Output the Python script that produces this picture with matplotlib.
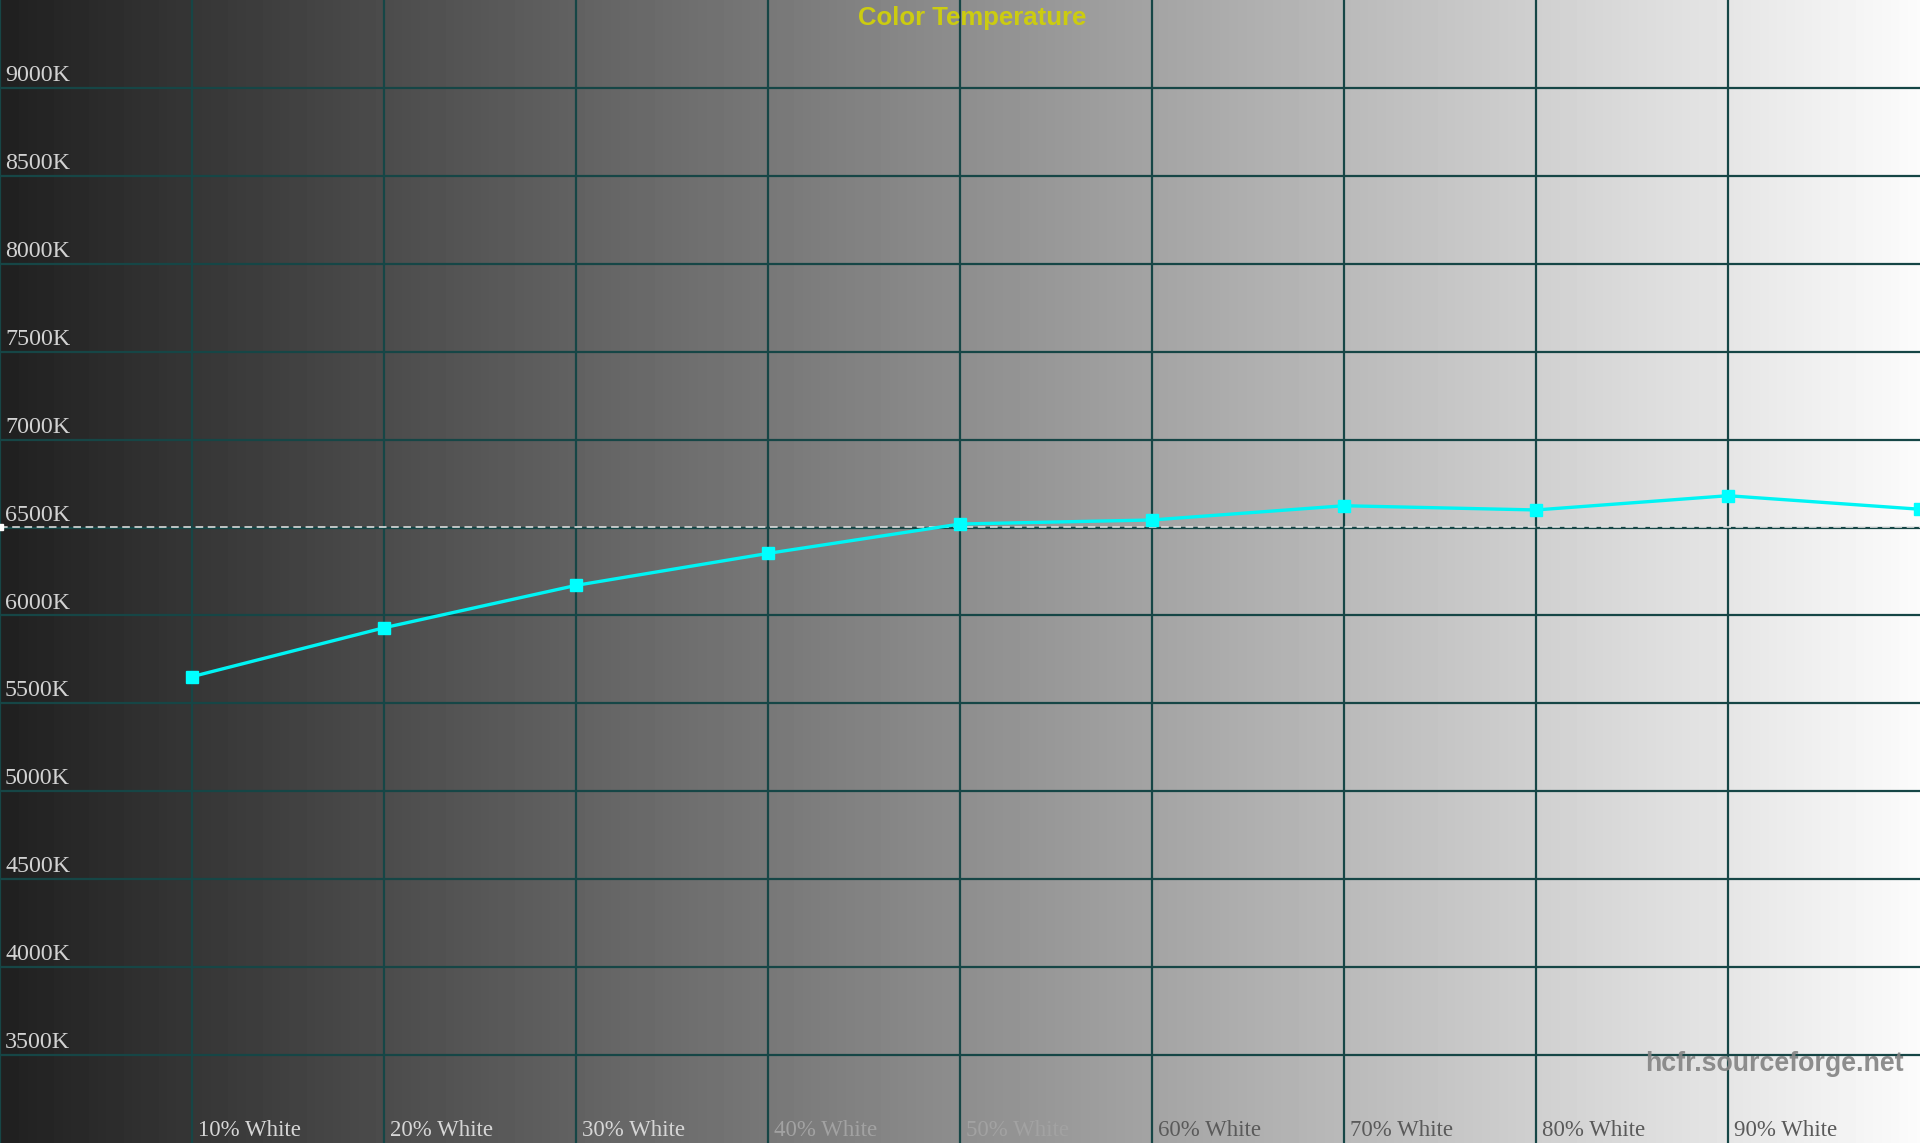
import numpy as np
import matplotlib
matplotlib.use("Agg")
import matplotlib.pyplot as plt

# ---- data ----
levels = [10, 20, 30, 40, 50, 60, 70, 80, 90, 100]
cct_k = [5652, 5930, 6171, 6353, 6520, 6543, 6624, 6600, 6681, 6604]
x_tick_labels = ["10% White", "20% White", "30% White", "40% White", "50% White",
                 "60% White", "70% White", "80% White", "90% White"]
y_ticks = [3500, 4000, 4500, 5000, 5500, 6000, 6500, 7000, 7500, 8000, 8500, 9000]
target_k = 6504
title = "Color Temperature"
watermark = "hcfr.sourceforge.net"

W, H, DPI = 1920, 1143, 100
fig = plt.figure(figsize=(W / DPI, H / DPI), dpi=DPI)
ax = fig.add_axes([0, 0, 1, 1])
ax.set_xlim(0, 100)
ax.set_ylim(3000, 9500)
ax.axis("off")

# background gradient
grad = np.linspace(0.125, 0.985, 512).reshape(1, -1)
ax.imshow(grad, extent=[0, 100, 3000, 9500], aspect="auto", cmap="gray",
          vmin=0, vmax=1, zorder=0, interpolation="bicubic")

grid_color = "#164646"
for xv in [0] + levels[:-1]:
    ax.axvline(xv, color=grid_color, lw=1.6, zorder=1)
for yv in y_ticks:
    ax.axhline(yv, color=grid_color, lw=1.6, zorder=1)

# y labels
for yv in y_ticks:
    ax.annotate(f"{yv}K", xy=(0, yv), xytext=(3.6, 5.0), textcoords="offset points",
                ha="left", va="baseline", fontsize=17.3, family="Liberation Serif",
                color="#d2d2d2", zorder=3)

# x labels with contrast-dependent colours
def label_color(i):
    if i < 3:
        return "#d6d6d6"
    if i < 5:
        return "#a2a2a2"
    return "#5a5a5a"

for i, (xv, lab) in enumerate(zip(levels, x_tick_labels)):
    ax.annotate(lab, xy=(xv, 3000), xytext=(4.0, 5.0), textcoords="offset points",
                ha="left", va="baseline", fontsize=16.5, family="Liberation Serif",
                color=label_color(i), zorder=3)

# target dashed line
ax.plot([0, 100], [target_k, target_k], color="#e8e8e8", lw=1.1,
        dashes=(5, 3), zorder=2, marker="s", markersize=4.5,
        markevery=[0], markerfacecolor="white", markeredgecolor="white")

# measured series
ax.plot(levels, cct_k, color="#00f4f4", lw=2.4, marker="s", markersize=9.2,
        markerfacecolor="#00ffff", markeredgecolor="#00ffff", zorder=4)

# title
ax.annotate(title, xy=(972 / W * 100, 9500), xytext=(0, -4.5),
            textcoords="offset points", ha="center", va="top",
            fontsize=18.5, fontweight="bold", family="Liberation Sans",
            color="#cccc10", zorder=5)

# watermark
ax.annotate(watermark, xy=(100, 3000), xytext=(-12.0, 51.5), textcoords="offset points",
            ha="right", va="baseline", fontsize=19.3, fontweight="bold",
            family="Liberation Sans", color="#858585", alpha=0.92, zorder=5)

fig.savefig("out.png", dpi=DPI)
